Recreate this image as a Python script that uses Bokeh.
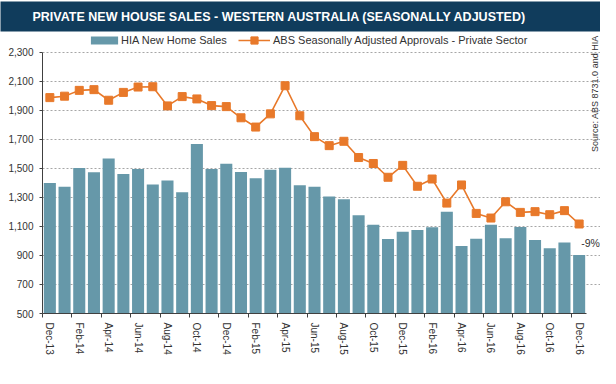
import math
from bokeh.plotting import figure
from bokeh.models import (FixedTicker, Legend, LegendItem, Label, NumeralTickFormatter,
                          Range1d, Title)
from bokeh.embed import file_html
from bokeh.resources import INLINE

# ---------------- data ----------------
months = ["Dec-13",
          "Jan-14", "Feb-14", "Mar-14", "Apr-14", "May-14", "Jun-14",
          "Jul-14", "Aug-14", "Sep-14", "Oct-14", "Nov-14", "Dec-14",
          "Jan-15", "Feb-15", "Mar-15", "Apr-15", "May-15", "Jun-15",
          "Jul-15", "Aug-15", "Sep-15", "Oct-15", "Nov-15", "Dec-15",
          "Jan-16", "Feb-16", "Mar-16", "Apr-16", "May-16", "Jun-16",
          "Jul-16", "Aug-16", "Sep-16", "Oct-16", "Nov-16", "Dec-16"]

hia_new_home_sales = [1400, 1373, 1503, 1473, 1569, 1462, 1496, 1389, 1416, 1336,
                      1669, 1496, 1532, 1475, 1432, 1491, 1505, 1384, 1373, 1307,
                      1288, 1177, 1111, 1013, 1063, 1076, 1095, 1202, 965, 1015,
                      1111, 1019, 1097, 1006, 949, 990, 903]

abs_approvals = [1988, 1998, 2038, 2043, 1970, 2024, 2061, 2063, 1931, 1995,
                 1979, 1933, 1926, 1849, 1785, 1876, 2070, 1863, 1719, 1657,
                 1687, 1575, 1534, 1439, 1521, 1377, 1427, 1261, 1386, 1190,
                 1158, 1270, 1197, 1202, 1181, 1209, 1117]

y_ticks = [500, 700, 900, 1100, 1300, 1500, 1700, 1900, 2100, 2300]
change_label = "-9%"
title_main = "PRIVATE NEW HOUSE SALES -  WESTERN AUSTRALIA"
title_sub = "(SEASONALLY ADJUSTED)"
source_text = "Source: ABS 8731.0 and HIA"
series_names = ["HIA New Home Sales", "ABS Seasonally Adjusted Approvals - Private Sector"]

# ---------------- style ----------------
NAVY = "#103c5c"
BAR = "#6698a9"
ORANGE = "#e8792a"
TXT = "#333333"
AXIS = "#404040"
FONT = "Liberation Sans"
W, H = 600, 368
LEFT = 42
TOP = 30
BOTTOM = 55

n = len(months)
idx = list(range(n))

frame_top_pad_px = 20
frame_h_px = H - TOP - BOTTOM
plot_h_px = frame_h_px - frame_top_pad_px
bars_w_px = 544
frame_w_px = W - LEFT
y_lo, y_hi = y_ticks[0], y_ticks[-1]
y_top = y_hi + (y_hi - y_lo) * frame_top_pad_px / plot_h_px
x_end = (n - 0.5) + n * (frame_w_px - bars_w_px) / bars_w_px

p = figure(width=W, height=H, x_range=Range1d(-0.5, x_end),
           y_range=Range1d(y_lo, y_top),
           toolbar_location=None, output_backend="svg",
           min_border_left=LEFT, min_border_right=0, min_border_top=TOP,
           min_border_bottom=BOTTOM)
p.outline_line_color = None
p.background_fill_color = "white"
p.border_fill_color = "white"
p.xgrid.visible = False
p.ygrid.grid_line_color = "#a6a6a6"
p.ygrid.grid_line_dash = "2 2"
p.ygrid.grid_line_width = 1

# ---------------- title band ----------------
p.title = Title(text=title_main + " " + title_sub, align="left", offset=-LEFT,
                vertical_align="middle", standoff=0,
                text_font=FONT, text_font_style="bold", text_font_size="12.5px",
                text_color="white", background_fill_color=NAVY, background_fill_alpha=1,
                border_line_color=None,
                padding=dict(left=32, right=200, top=8, bottom=8))

# ---------------- marks ----------------
bars = p.vbar(x=idx, top=hia_new_home_sales, bottom=y_lo, width=0.82,
              fill_color=BAR, line_color=None)
ln = p.line(idx, abs_approvals, line_color=ORANGE, line_width=1.6)
sq = p.scatter(idx, abs_approvals, marker="square", size=8, fill_color=ORANGE, line_color=ORANGE)

# y axis
yax = p.yaxis[0]
yax.ticker = FixedTicker(ticks=y_ticks, minor_ticks=[])
yax.bounds = (y_lo, y_hi)
yax.formatter = NumeralTickFormatter(format="0,0")
yax.axis_line_color = AXIS
yax.major_tick_line_color = AXIS
yax.major_tick_in = 0
yax.major_tick_out = 3
yax.major_label_text_font = FONT
yax.major_label_text_font_size = "10px"
yax.major_label_text_color = TXT
yax.major_label_standoff = 6

# x axis
xax = p.xaxis[0]
label_pos = idx[::2]
xax.ticker = FixedTicker(ticks=label_pos, minor_ticks=[i - 0.5 for i in label_pos])
xax.bounds = (-0.5, n - 0.5)
xax.major_label_overrides = {i: months[i] for i in label_pos}
xax.major_label_orientation = "vertical"
xax.axis_line_color = AXIS
xax.major_tick_line_color = None
xax.major_tick_out = 0
xax.major_tick_in = 0
xax.minor_tick_line_color = AXIS
xax.minor_tick_out = 4
xax.minor_tick_in = 0
xax.major_label_text_font = FONT
xax.major_label_text_font_size = "10px"
xax.major_label_text_color = TXT
xax.major_label_standoff = 5

# series legends (inside the plot area, above the 2,300 line)
LEG_H = 18
leg_y = frame_h_px - 1 - LEG_H
common = dict(orientation="horizontal", border_line_color=None, background_fill_alpha=0,
              label_height=LEG_H, padding=0, margin=0, spacing=0,
              label_text_font=FONT, label_text_font_size="11px", label_text_color=TXT)
legend_bars = Legend(items=[LegendItem(label=series_names[0], renderers=[bars])],
                     location=(45, leg_y), glyph_width=34, glyph_height=10,
                     label_standoff=0, **common)
legend_line = Legend(items=[LegendItem(label=series_names[1], renderers=[ln, sq])],
                     location=(196, leg_y), glyph_width=32, glyph_height=LEG_H,
                     label_standoff=3, **common)
p.add_layout(legend_bars)
p.add_layout(legend_line)

# change annotation next to the last bar
p.add_layout(Label(x=idx[-1], y=hia_new_home_sales[-1], x_offset=2, y_offset=12,
                   text=change_label, text_font=FONT, text_font_size="10.5px",
                   text_color=TXT, text_baseline="middle", text_align="left"))

# rotated source note
p.add_layout(Label(x=n - 0.5, y=y_hi, x_offset=8, y_offset=17, angle=math.pi / 2,
                   text=source_text, text_font=FONT, text_font_size="9px",
                   text_color=TXT, text_baseline="middle", text_align="right"))

open("out.html", "w").write(file_html(p, INLINE))
